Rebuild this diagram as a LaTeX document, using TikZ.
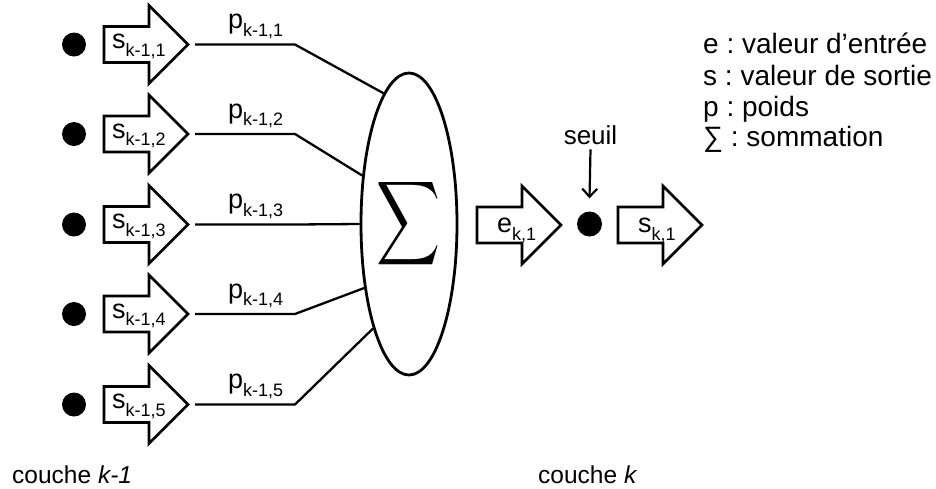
\documentclass[tikz,border=0pt]{standalone}
\usepackage{fontspec}
\setmainfont{Liberation Sans}
\usepackage{graphicx}
\usetikzlibrary{arrows.meta,shapes.geometric}
\frenchspacing
\newcommand\subtxt[1]{\raisebox{-7.5pt}{\fontsize{18}{18}\selectfont #1}}
\begin{document}
\begin{tikzpicture}[x=1pt,y=-1pt,
  blockarrow/.pic={\draw[line width=2.8pt] (0,-18) -- (45,-18) -- (45,-39) -- (84,0) -- (45,39) -- (45,18) -- (0,18) -- cycle;},
  dot/.style={circle,fill=black,inner sep=0pt,minimum size=24pt},
  lbl/.style={inner sep=0pt,anchor=base west,font=\fontsize{27}{32}\selectfont},
  wire/.style={line width=2.3pt},
  legend/.style={inner sep=0pt,anchor=base west,font=\fontsize{28}{32}\selectfont\frenchspacing},
  layer/.style={inner sep=0pt,anchor=base west,font=\fontsize{24.5}{30}\selectfont},
]
\useasboundingbox (0,0) rectangle (936,488);
\node[ellipse,draw,line width=2.8pt,minimum width=96pt,minimum height=302pt,inner sep=0pt] (E) at (409,224) {\resizebox*{64pt}{94pt}{$\displaystyle\sum$}};
\foreach \i/\y/\a in {1/44.5/101.6, 2/134/134, 3/224.5/180, 4/314/235, 5/404.5/251}{
  \node[dot] (d\i) at (74,\y) {};
  \pic at (104,\y) {blockarrow};
  \node[lbl] (s\i) at (112,\y+4) {s\subtxt{k-1,\i}};
  \coordinate (t\i) at (195,\y);
  \coordinate (b\i) at (295,\y);
  \node[lbl] (p\i) at (228,\y-16) {p\subtxt{k-1,\i}};
  \draw[wire] (t\i) -- (b\i) -- (E.\a);
}
\pic at (477,225) {blockarrow};
\node[lbl] (e) at (497,232.5) {e\subtxt{k,1}};
\node[dot,minimum size=25pt] (n) at (589.5,224) {};
\pic at (618,225) {blockarrow};
\node[lbl] (sk) at (638,232.5) {s\subtxt{k,1}};
\node[inner sep=0pt,anchor=base,font=\fontsize{26}{30}\selectfont] (seuil) at (590.5,144) {seuil};
\draw[line width=2.2pt,-{Straight Barb[length=8pt,width=15pt]}] ([yshift=-5pt]seuil.south) -- ([yshift=13pt]n.north);
\node[legend] (l1) at (703,53) {e : valeur d’entrée};
\node[legend] (l2) at (703,85) {s : valeur de sortie};
\node[legend] (l3) at (703,116) {p : poids};
\node[legend] (l4) at (703,146) {∑ : sommation};
\node[layer] (c1) at (12,483) {couche \textit{k-1}};
\node[layer] (c2) at (538,483) {couche \textit{k}};
\end{tikzpicture}
\end{document}
